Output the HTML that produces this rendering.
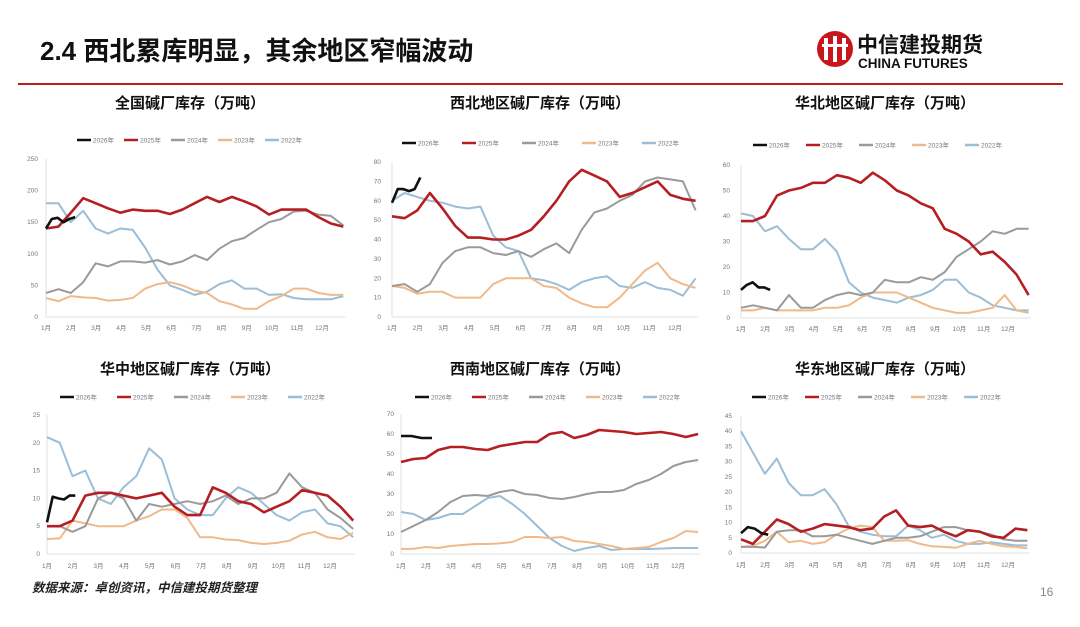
<!DOCTYPE html>
<html><head><meta charset="utf-8"><style>
html,body{margin:0;padding:0;background:#fff;}
body{width:1080px;height:622px;overflow:hidden;position:relative;font-family:"Liberation Sans","Noto Sans CJK SC",sans-serif;}
svg text{font-family:"Liberation Sans","Noto Sans CJK SC",sans-serif;}
</style></head><body>
<svg id="page" width="1080" height="622" viewBox="0 0 1080 622" xmlns="http://www.w3.org/2000/svg">
<text x="40" y="60" font-size="26" font-weight="bold" fill="#111">2.4 西北累库明显，其余地区窄幅波动</text>
<g>
<circle cx="835" cy="49" r="18" fill="#c8161d"/>
<rect x="824" y="38" width="4" height="22" fill="#fff"/><rect x="833" y="36" width="4" height="26" fill="#fff"/><rect x="842" y="38" width="4" height="22" fill="#fff"/>
<rect x="822" y="44" width="26" height="3" fill="#fff"/>
<text x="857" y="52" font-size="21" font-weight="bold" fill="#111" font-family="Noto Serif CJK SC,serif">中信建投期货</text>
<text x="858" y="68" font-size="13.5" font-weight="bold" fill="#111">CHINA FUTURES</text>
</g>
<rect x="18" y="83" width="1045" height="2" fill="#b52025"/>
<text x="32" y="592" font-size="12.5" font-weight="bold" font-style="italic" fill="#222">数据来源：卓创资讯，中信建投期货整理</text>
<text x="1040" y="596" font-size="12" fill="#888">16</text>
<g id="charts"></g>
</svg>
<script>
const months = ["1月","2月","3月","4月","5月","6月","7月","8月","9月","10月","11月","12月"];
const seriesNames = ["2026年","2025年","2024年","2023年","2022年"];
const seriesColors = ["#111","#b51f24","#9a9a9a","#f0b98a","#9bbdd6"];
// chart 1 全国
const c1Ticks = [0,50,100,150,200,250];
const c1_2026 = [140,155,157,150,155,158];
const c1_2025 = [140,143,165,188,180,172,165,170,168,168,163,170,180,190,182,190,183,175,162,170,170,170,158,148,143];
const c1_2024 = [38,44,38,55,85,80,88,88,86,90,83,88,98,90,108,120,125,138,150,155,167,168,162,160,145];
const c1_2023 = [30,25,33,31,30,26,27,30,45,52,55,50,42,38,25,20,13,13,25,33,45,45,38,35,35];
const c1_2022 = [180,180,150,168,140,132,140,138,110,75,50,43,35,40,52,58,45,45,35,36,30,28,28,28,33];
// chart 2 西北
const c2Ticks = [0,10,20,30,40,50,60,70,80];
const c2_2026 = [59,66,66,65,66,72];
const c2_2025 = [52,51,55,64,56,47,41,41,40,40,42,45,52,60,70,76,73,70,62,64,67,70,63,61,60];
const c2_2024 = [16,17,13,17,28,34,36,36,33,32,34,31,35,38,33,45,54,56,60,63,70,72,71,70,55];
const c2_2023 = [16,15,12,13,13,10,10,10,17,20,20,20,16,15,10,7,5,5,10,17,24,28,20,17,15];
const c2_2022 = [60,64,62,60,59,57,56,57,42,36,34,20,19,17,14,18,20,21,16,15,18,15,14,11,20];
// chart 3 华北
const c3Ticks = [0,10,20,30,40,50,60];
const c3_2026 = [11,13,14,12,12,11];
const c3_2025 = [38,38,40,48,50,51,53,53,56,55,53,57,54,50,48,45,43,35,33,30,25,26,22,17,9];
const c3_2024 = [4,5,4,3,9,4,4,7,9,10,9,10,15,14,14,16,15,18,24,27,30,34,33,35,35];
const c3_2023 = [3,3,4,3,3,3,3,4,4,5,8,10,10,10,8,6,4,3,2,2,3,4,9,3,2];
const c3_2022 = [41,40,34,36,31,27,27,31,26,14,10,8,7,6,8,9,11,15,15,10,8,5,4,3,3];
// chart 4 华中
const c4Ticks = [0,5,10,15,20,25];
const c4_2026 = [5.7,10.3,10,9.8,10.5,10.5];
const c4_2025 = [5,5,6,10.5,11,11,10.5,10,10.5,11,8.5,7,7,12,11,9.5,9,7.5,8.5,9.5,11.5,11,10.5,8.5,6];
const c4_2024 = [5,5,4,5,10,11,10,6,9,8.5,9,9.5,9,9.5,10.5,9,10,10,11,14.5,12,11,8,6.5,4.5];
const c4_2023 = [2.7,2.8,6,5.5,5,5,5,6,6.8,8,8,6.5,3,3,2.6,2.5,2,1.8,2,2.4,3.5,4,3,2.7,3.8];
const c4_2022 = [21,20,14,15,10,9,12,14,19,17,10,8,7,7,10,12,11,9,7,6,7.5,8,5.5,5,3];
// chart 5 西南
const c5Ticks = [0,10,20,30,40,50,60,70];
const c5_2026 = [59,59,58,58];
const c5_2025 = [46,47.5,48,52,53.5,53.5,52.5,52,54,55,56,56,60,61,58,59.5,62,61.5,61,60,60.5,61,60,58.5,60];
const c5_2024 = [11,14,17,21,26,29,29.5,29,31,32,30,29.5,28,27.5,28.5,30,31,31,32,35,37,40,44,46,47];
const c5_2023 = [2.5,2.6,3.5,3,4,4.5,5,5,5.3,6,8.5,8.5,8,8.5,6.5,6,5,4,2.5,3,3.5,6,8,11.5,11];
const c5_2022 = [21,20,17,18,20,20,24,28,29,25,20,14,8,4,1.5,3,4,2,2.5,2.5,2.5,2.7,3,3,3];
// chart 6 华东
const c6Ticks = [0,5,10,15,20,25,30,35,40,45];
const c6_2026 = [6.5,8.5,8,6.5,6];
const c6_2025 = [4.5,3,7,11,9.5,7,8,9.5,9,8.5,7.5,8,12,14,9,8.5,9,7,5.5,7.5,7,5.5,5,8,7.5];
const c6_2024 = [2,2,1.8,7,7.5,7.5,5.5,5.5,6,5,4,3,4,5,5,5.5,7,8.5,8.5,7.5,7,6,4.5,4,4];
const c6_2023 = [2,2.3,4,7,3.5,4,3,3.5,6,8,9,8.5,4,4,4.2,3,2.2,2,1.7,3,4,3,2.2,2,1.5];
const c6_2022 = [40,33,26,31,23,19,19,21,16,9,7,6,5.5,5.5,9,7.5,5,6,4,3,3,3.5,3,2.5,2.5];

const charts = [
 {name:"national",title:"全国碱厂库存（万吨）",tx:190,ty:108,ly:140,lx:77,ls:47,yl:38,x0:46,x11:322,tEnd:11.85,py0:317,pyT:159,ticks:c1Ticks,t26:1.16,s:[c1_2026,c1_2025,c1_2024,c1_2023,c1_2022],xl:330},
 {name:"northwest",title:"西北地区碱厂库存（万吨）",tx:540,ty:108,ly:143,lx:402,ls:60,yl:381,x0:392,x11:675,tEnd:11.8,py0:317,pyT:162,ticks:c2Ticks,t26:1.1,s:[c2_2026,c2_2025,c2_2024,c2_2023,c2_2022],xl:330},
 {name:"north",title:"华北地区碱厂库存（万吨）",tx:885,ty:108,ly:145,lx:753,ls:53,yl:730,x0:741,x11:1008,tEnd:11.85,py0:318,pyT:165,ticks:c3Ticks,t26:1.2,s:[c3_2026,c3_2025,c3_2024,c3_2023,c3_2022],xl:331},
 {name:"central",title:"华中地区碱厂库存（万吨）",tx:190,ty:374,ly:397,lx:60,ls:57,yl:40,x0:47,x11:330,tEnd:11.9,py0:554,pyT:415,ticks:c4Ticks,t26:1.1,s:[c4_2026,c4_2025,c4_2024,c4_2023,c4_2022],xl:568},
 {name:"southwest",title:"西南地区碱厂库存（万吨）",tx:540,ty:374,ly:397,lx:415,ls:57,yl:394,x0:401,x11:678,tEnd:11.8,py0:554,pyT:414,ticks:c5Ticks,t26:1.23,s:[c5_2026,c5_2025,c5_2024,c5_2023,c5_2022],xl:568},
 {name:"east",title:"华东地区碱厂库存（万吨）",tx:885,ty:374,ly:397,lx:752,ls:53,yl:732,x0:741,x11:1008,tEnd:11.8,py0:553,pyT:416,ticks:c6Ticks,t26:1.12,s:[c6_2026,c6_2025,c6_2024,c6_2023,c6_2022],xl:567}
];
const NS="http://www.w3.org/2000/svg";
const root=document.getElementById('charts');
function mk(tag,attrs,parent){const e=document.createElementNS(NS,tag);for(const k in attrs)e.setAttribute(k,attrs[k]);parent.appendChild(e);return e;}
charts.forEach(c=>{
  const g=mk('g',{},root);
  
  
  const yMax=c.ticks[c.ticks.length-1];
  const xs=t=>c.x0+(c.x11-c.x0)/11*t;
  const ys=v=>c.py0-(c.py0-c.pyT)*v/yMax;
  const t=mk('text',{x:c.tx,y:c.ty,'font-size':15,'font-weight':'bold','text-anchor':'middle',fill:'#111'},g);
  t.textContent=c.title;
  
  
  const ax=mk('line',{x1:c.x0,y1:ys(yMax),x2:c.x0,y2:c.py0,stroke:'#d8d8d8','stroke-width':0.8},g);
  
  
  const bx=mk('line',{x1:c.x0,y1:c.py0,x2:xs(c.tEnd)+2,y2:c.py0,stroke:'#d8d8d8','stroke-width':0.8},g);
  
  
  c.ticks.forEach(v=>{
    const tl=mk('text',{x:c.yl,y:ys(v)+2,'font-size':6.5,'text-anchor':'end',fill:'#777'},g);
    tl.textContent=v;
    
    
  });
  months.forEach((m,i)=>{
    const ml=mk('text',{x:xs(i),y:c.xl,'font-size':6.5,'text-anchor':'middle',fill:'#777'},g);
    ml.textContent=m;
    
    
  });
  seriesNames.forEach((n,i)=>{
    const lg=mk('g',{},g);
    
    
    const lx=c.lx+i*c.ls;
    mk('line',{x1:lx,y1:c.ly,x2:lx+14,y2:c.ly,stroke:seriesColors[i],'stroke-width':2.5},lg);
    const lt=mk('text',{x:lx+16,y:c.ly+2.3,'font-size':6.5,fill:'#777'},lg);
    lt.textContent=n;
  });
  [4,3,2,1,0].forEach(i=>{
    const vals=c.s[i];
    const end=i===0?c.t26:c.tEnd;
    const pts=vals.map((v,k)=>xs(end*k/(vals.length-1)).toFixed(1)+','+ys(v).toFixed(1)).join(' ');
    const p=mk('polyline',{points:pts,fill:'none',stroke:seriesColors[i],'stroke-width':(i<=1?2.6:2.0),'stroke-linejoin':'round'},g);
    
    
  });
});
</script>
</body></html>
